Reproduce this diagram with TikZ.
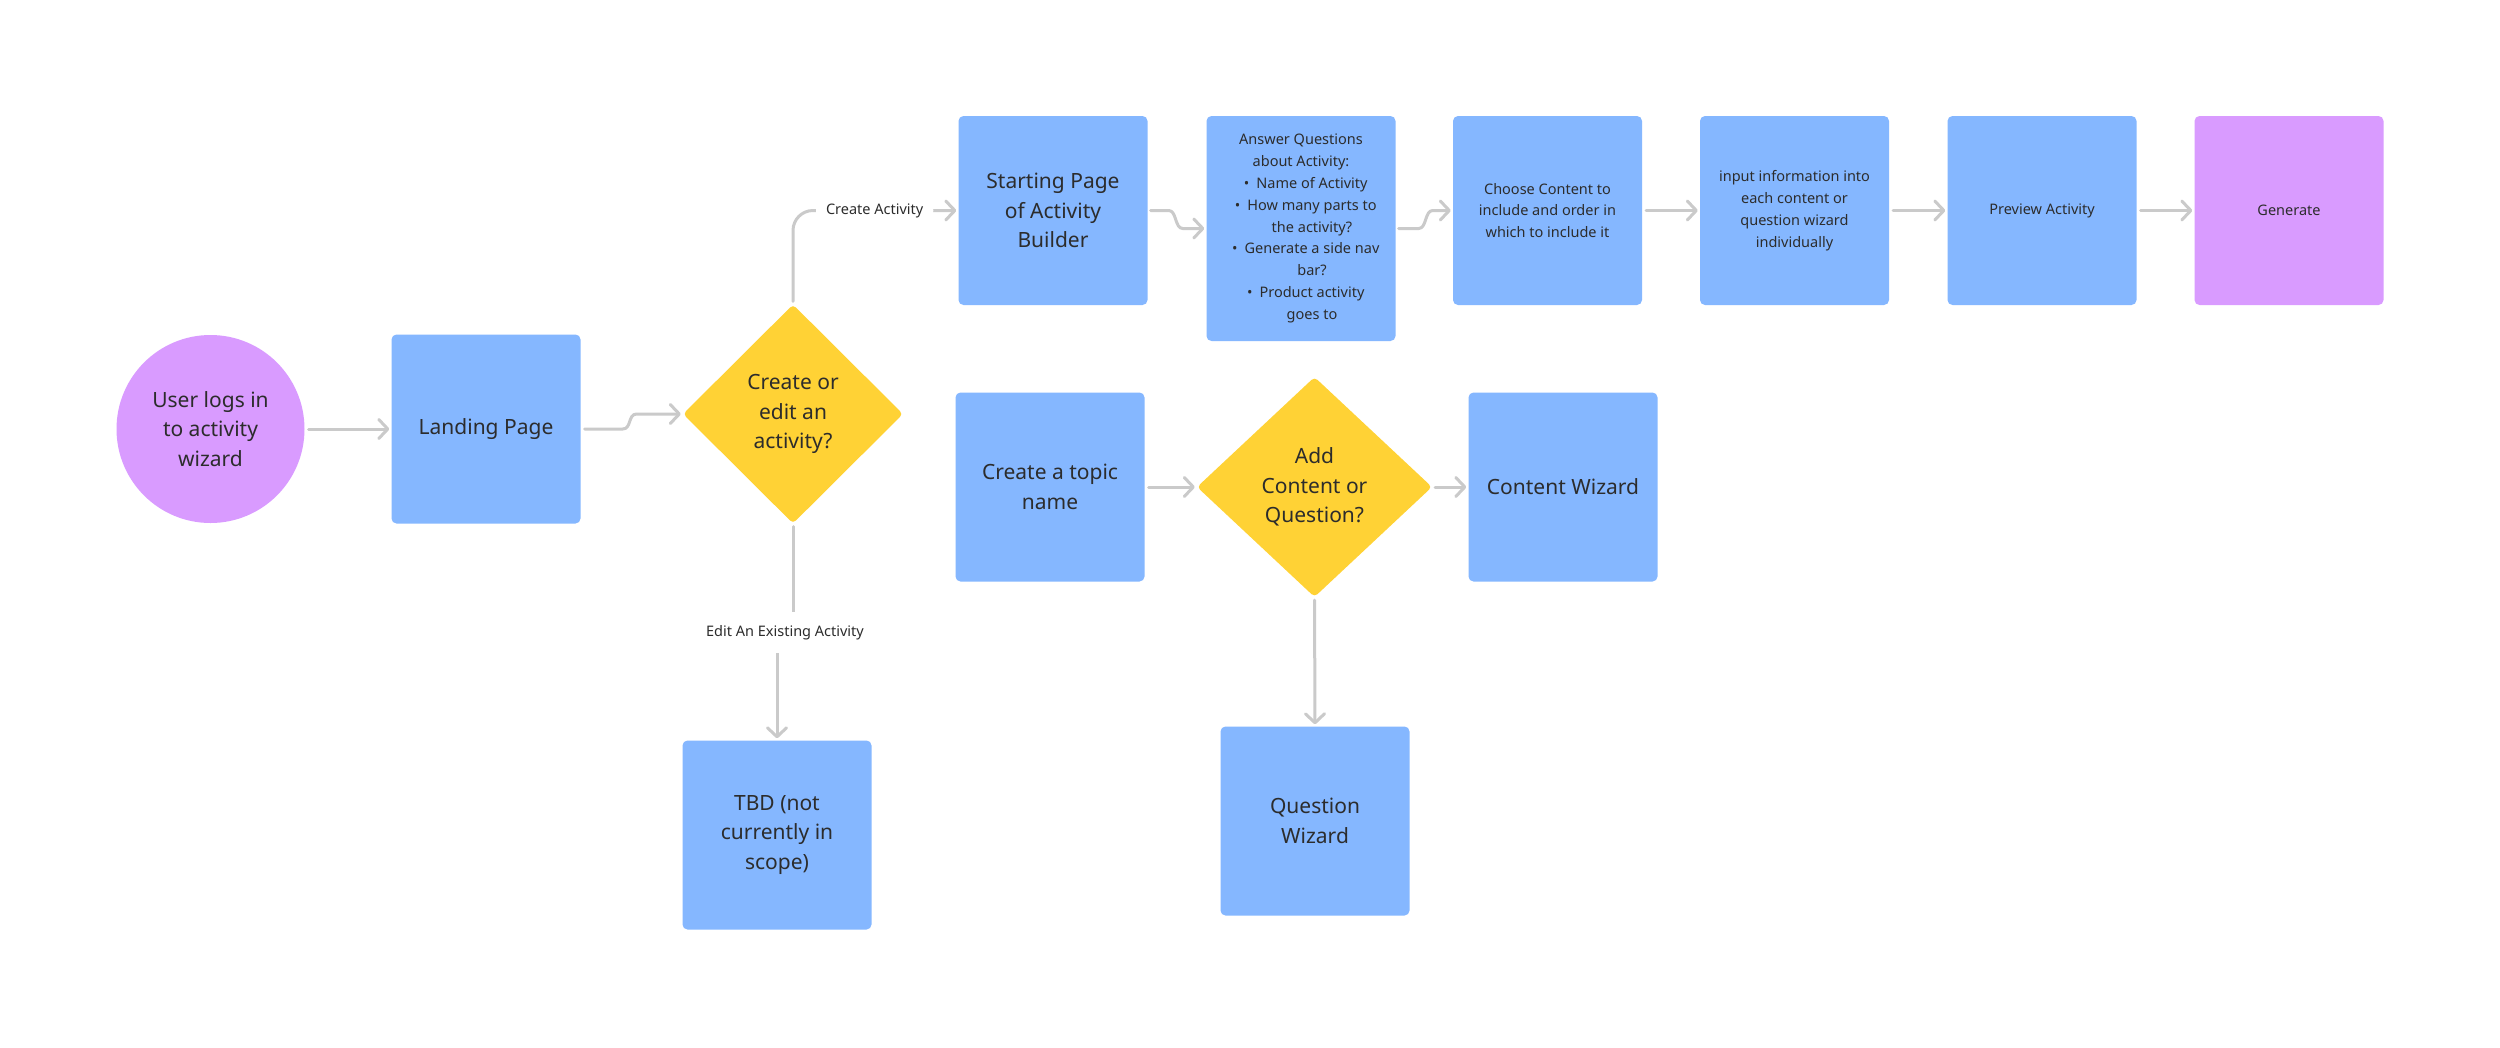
\documentclass[tikz,border=0pt]{standalone}
\usepackage{fontspec}
\setmainfont{Noto Sans}
\usetikzlibrary{arrows.meta,shapes.geometric,calc}
\definecolor{boxblue}{HTML}{85B7FF}
\definecolor{boxpurple}{HTML}{D99BFF}
\definecolor{dyellow}{HTML}{FFD235}
\definecolor{txt}{HTML}{2C2C2C}
\definecolor{conncol}{HTML}{CACACA}
\begin{document}
\begin{tikzpicture}[x=1pt,y=-1pt,
  bigtxt/.style={font=\fontsize{21}{29.5}\selectfont},
  smalltxt/.style={font=\fontsize{14.5}{21.8}\selectfont},
  box/.style={rectangle, rounded corners=5pt, fill=boxblue, minimum width=189pt, minimum height=189pt, inner sep=0pt, text=txt, align=center},
  purplebox/.style={box, fill=boxpurple},
  decision/.style={diamond, fill=dyellow, rounded corners=4pt, inner sep=0pt, text=txt, align=center, bigtxt},
  conn/.style={draw=conncol, line width=3pt, line cap=round, line join=round, -{Straight Barb[length=9pt,width=19pt,round]}},
  lbl/.style={fill=white, text=txt, smalltxt, inner xsep=10pt, inner ysep=13pt}
]
\fill[white] (0,0) rectangle (2500,1047);
\useasboundingbox (0,0) rectangle (2500,1047);

% nodes
\node[circle, fill=boxpurple, minimum size=188pt, inner sep=0pt, text=txt, align=center, bigtxt] (user) at (210.5,429) {User logs in\\to activity\\wizard};
\node[box, bigtxt] (landing) at (486,429) {Landing Page};
\node[decision, minimum width=220pt, minimum height=219pt] (d1) at (793,414) {Create or\\edit an\\activity?};
\node[box, bigtxt] (start) at (1053,210.5) {Starting Page\\of Activity\\Builder};
\node[box, smalltxt, minimum height=225pt] (ans) at (1301,228.5) {Answer Questions\\about Activity:\\
\hspace*{22pt}\llap{\textbullet\hspace{7pt}}Name of Activity\\
\hspace*{22pt}\llap{\textbullet\hspace{7pt}}How many parts to\\
\hspace*{22pt}the activity?\\
\hspace*{22pt}\llap{\textbullet\hspace{7pt}}Generate a side nav\\
\hspace*{22pt}bar?\\
\hspace*{22pt}\llap{\textbullet\hspace{7pt}}Product activity\\
\hspace*{22pt}goes to};
\node[box, smalltxt] (choose) at (1547.5,210.5) {Choose Content to\\include and order in\\which to include it};
\node[box, smalltxt] (input) at (1794.5,210.5) {input information into\\each content or\\question wizard\\individually};
\node[box, smalltxt] (preview) at (2042,210.5) {Preview Activity};
\node[purplebox, smalltxt] (gen) at (2289,210.5) {Generate};
\node[box, bigtxt] (tbd) at (777,835) {TBD (not\\currently in\\scope)};
\node[box, bigtxt] (topic) at (1050,487) {Create a topic\\name};
\node[decision, minimum width=235pt, minimum height=220pt] (d2) at (1314.5,487) {Add\\Content or\\Question?};
\node[box, bigtxt] (content) at (1563,487) {Content Wizard};
\node[box, bigtxt] (question) at (1315,821) {Question\\Wizard};

% connectors
\draw[conn] ([xshift=4pt]user.east) -- ([xshift=-2pt]landing.west);
\draw[conn] ([xshift=4pt]landing.east) -- ++(38,0) .. controls +(9,0) and +(-9,0) .. ++(14,-15) -- ([xshift=-2pt]d1.west);
\draw[conn, rounded corners=20pt] ([yshift=3pt]d1.north) |- node[lbl, pos=0.75] {Create Activity} ([xshift=-2pt]start.west);
\draw[conn] ([yshift=-3pt]d1.south) -- ++(0,106) -| node[lbl, pos=0.25] {Edit An Existing Activity} ([yshift=2pt]tbd.north);
\draw[conn] ([xshift=3pt]start.east) -- ++(18,0) .. controls +(8,0) and +(-8,0) .. ++(14,18) -- ([xshift=-2pt]ans.west);
\draw[conn] ([xshift=3pt]ans.east) -- ++(20,0) .. controls +(8,0) and +(-8,0) .. ++(14,-18) -- ([xshift=-2pt]choose.west);
\draw[conn] ([xshift=4pt]choose.east) -- ([xshift=-2pt]input.west);
\draw[conn] ([xshift=4pt]input.east) -- ([xshift=-2pt]preview.west);
\draw[conn] ([xshift=4pt]preview.east) -- ([xshift=-2pt]gen.west);
\draw[conn] ([xshift=4pt]topic.east) -- ([xshift=-2pt]d2.west);
\draw[conn] ([xshift=3pt]d2.east) -- ([xshift=-2pt]content.west);
\draw[conn] ([yshift=-3pt]d2.south) -- ([yshift=2pt]question.north);
\end{tikzpicture}
\end{document}
